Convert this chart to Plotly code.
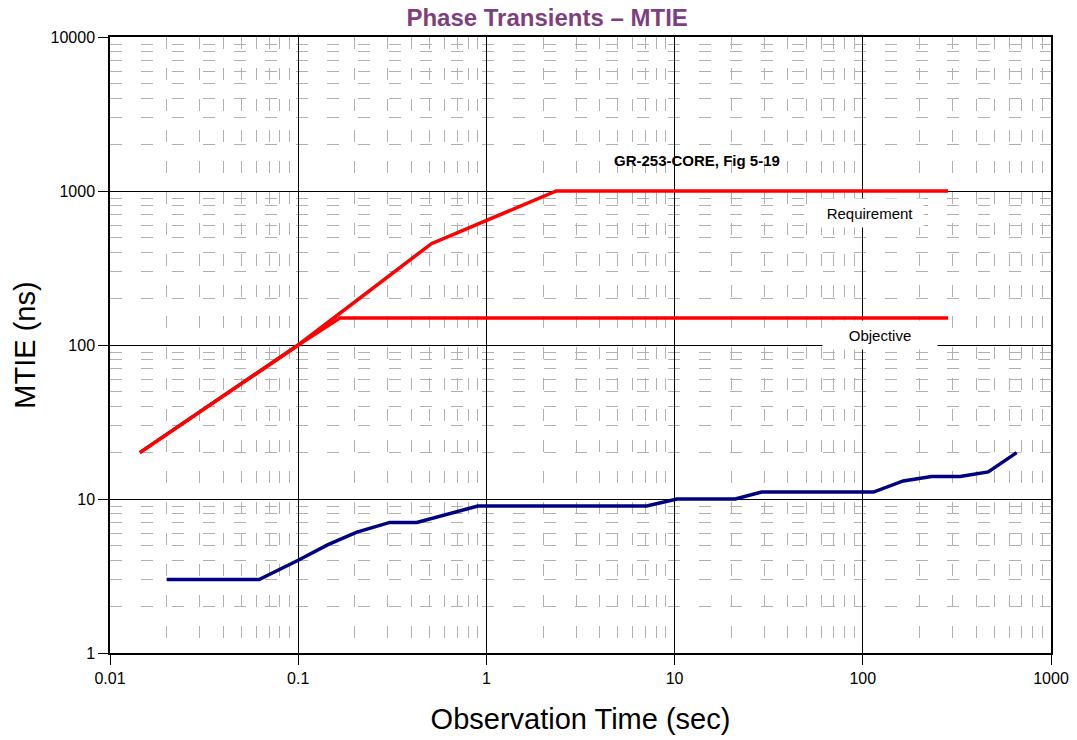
import plotly.graph_objects as go

# Data
req_x = [0.0144, 0.1, 0.51, 2.35, 284]
req_y = [20, 100, 455, 1000, 1000]
obj_x = [0.0144, 0.1, 0.167, 284]
obj_y = [20, 100, 150, 150]
mtie_x = [0.02, 0.062, 0.1, 0.144, 0.205, 0.307, 0.427, 0.64, 0.9, 7.1, 10.3, 21, 29, 114, 164, 232, 329, 464, 657]
mtie_y = [3, 3, 4.0, 5.05, 6.1, 7.05, 7.05, 8.05, 9, 9, 10, 10, 11.1, 11.1, 13.1, 14, 14, 15, 20]

x_ticks = [0.01, 0.1, 1, 10, 100, 1000]
x_labels = ["0.01", "0.1", "1", "10", "100", "1000"]
y_ticks = [1, 10, 100, 1000, 10000]
y_labels = ["1", "10", "100", "1000", "10000"]
minor_mult = [2, 3, 4, 5, 6, 7, 8, 9]

x_minor = [m * d for d in x_ticks[:-1] for m in minor_mult]
y_minor = [m * d for d in y_ticks[:-1] for m in minor_mult]

FONT = "Liberation Sans, Arial, sans-serif"

fig = go.Figure()
fig.add_trace(go.Scatter(x=req_x, y=req_y, mode="lines",
                         line=dict(color="#FF0000", width=3.5), showlegend=False))
fig.add_trace(go.Scatter(x=obj_x, y=obj_y, mode="lines",
                         line=dict(color="#FF0000", width=3.5), showlegend=False))
fig.add_trace(go.Scatter(x=mtie_x, y=mtie_y, mode="lines",
                         line=dict(color="#000080", width=3.5), showlegend=False))

def minor(vals):
    return dict(tickmode="array", tickvals=vals, showgrid=True, gridcolor="#b0b0b0",
                gridwidth=1, griddash="12px,19px", ticks="")

fig.update_xaxes(type="log", range=[-2, 3], tickmode="array", tickvals=x_ticks, ticktext=x_labels,
                 showgrid=True, gridcolor="#000000", gridwidth=1, automargin=False,
                 showline=True, linecolor="#000000", linewidth=1.5, mirror=True,
                 ticks="outside", ticklen=10, tickcolor="#000000",
                 tickfont=dict(family=FONT, size=16, color="#000000"),
                 minor=minor(x_minor), zeroline=False,
                 title=dict(text="Observation Time (sec)", font=dict(family=FONT, size=29, color="#000000"),
                            standoff=23))
fig.update_yaxes(type="log", range=[0, 4], tickmode="array", tickvals=y_ticks, ticktext=y_labels,
                 showgrid=True, gridcolor="#000000", gridwidth=1, automargin=False,
                 showline=True, linecolor="#000000", linewidth=1.5, mirror=True,
                 ticks="outside", ticklen=10, tickcolor="#000000",
                 tickfont=dict(family=FONT, size=16, color="#000000"),
                 minor=minor(y_minor), zeroline=False,
                 title=dict(text="MTIE (ns)", font=dict(family=FONT, size=29, color="#000000"),
                            standoff=6))

fig.add_annotation(x=1.119, y=3.2, xref="x", yref="y", text="<b>GR-253-CORE, Fig 5-19</b>",
                   showarrow=False, font=dict(family=FONT, size=15, color="#000000"))
fig.add_annotation(x=2.04, y=2.857, xref="x", yref="y", text="Requirement",
                   showarrow=False, bgcolor="#FFFFFF", width=104, height=26,
                   font=dict(family=FONT, size=15, color="#000000"))
fig.add_annotation(x=2.09, y=2.065, xref="x", yref="y", text="Objective",
                   showarrow=False, bgcolor="#FFFFFF", width=112, height=26,
                   font=dict(family=FONT, size=15, color="#000000"))

fig.update_layout(
    width=1077, height=740,
    margin=dict(l=110, r=26, t=37, b=87),
    paper_bgcolor="#FFFFFF", plot_bgcolor="#FFFFFF",
    title=dict(text="<b>Phase Transients – MTIE</b>", x=0.508, xanchor="center",
               y=0.976, yanchor="middle", font=dict(family=FONT, size=24, color="#7F3F7F")),
    showlegend=False,
)

fig.write_html("out.html", config={"displayModeBar": False},
               post_script="document.body.style.margin='0';")
